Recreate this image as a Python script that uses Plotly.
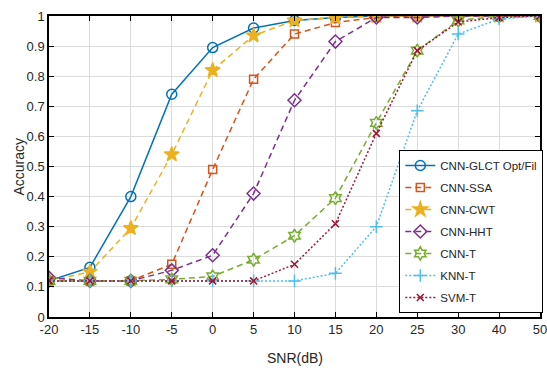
import plotly.graph_objects as go

snr_labels = ["-20", "-15", "-10", "-5", "0", "5", "10", "15", "20", "25", "30", "40", "50"]
cnn_glct = [0.12, 0.165, 0.40, 0.74, 0.895, 0.96, 0.985, 0.995, 1.0, 1.0, 1.0, 1.0, 1.0]
cnn_ssa = [0.12, 0.12, 0.12, 0.175, 0.49, 0.79, 0.94, 0.978, 0.995, 1.0, 1.0, 1.0, 1.0]
cnn_cwt = [0.12, 0.15, 0.295, 0.54, 0.82, 0.935, 0.985, 0.995, 1.0, 1.0, 1.0, 1.0, 1.0]
cnn_hht = [0.13, 0.12, 0.12, 0.155, 0.205, 0.41, 0.72, 0.915, 0.995, 0.995, 1.0, 1.0, 1.0]
cnn_t = [0.12, 0.12, 0.12, 0.125, 0.135, 0.19, 0.27, 0.395, 0.645, 0.885, 0.985, 1.0, 1.0]
knn_t = [0.12, 0.12, 0.12, 0.12, 0.12, 0.12, 0.12, 0.145, 0.30, 0.685, 0.94, 0.99, 1.0]
svm_t = [0.12, 0.12, 0.12, 0.12, 0.12, 0.12, 0.175, 0.31, 0.61, 0.885, 0.98, 0.995, 1.0]
y_ticks = [0, 0.1, 0.2, 0.3, 0.4, 0.5, 0.6, 0.7, 0.8, 0.9, 1]
y_tick_labels = ["0", "0.1", "0.2", "0.3", "0.4", "0.5", "0.6", "0.7", "0.8", "0.9", "1"]

x_idx = list(range(len(snr_labels)))

series = [
    ("CNN-GLCT Opt/Fil", cnn_glct, "#0072BD", "solid", "circle-open", 10),
    ("CNN-SSA", cnn_ssa, "#D95319", "6px,4px", "square-open", 8),
    ("CNN-CWT", cnn_cwt, "#EDB120", "6px,4px", "star", 11),
    ("CNN-HHT", cnn_hht, "#7E2F8E", "6px,4px", "diamond-open", 10),
    ("CNN-T", cnn_t, "#77AC30", "6px,4px", "hexagram-open", 10),
    ("KNN-T", knn_t, "#4DBEEE", "2px,2px", "cross-thin-open", 9),
    ("SVM-T", svm_t, "#A2142F", "2px,2px", "x-thin-open", 7),
]

FONT = "Liberation Sans, Arial, sans-serif"

fig = go.Figure()
for i, (name, vals, color, dash, sym, size) in enumerate(series):
    fig.add_trace(go.Scatter(
        x=x_idx, y=vals, name=name, mode="lines+markers",
        legendgroup="g%d" % i,
        line=dict(color=color, width=1.5, dash=dash),
        marker=dict(symbol=sym, size=size, color=color,
                    line=dict(color=color, width=1.5)),
    ))

fig.update_layout(
    width=547, height=374,
    margin=dict(l=49, r=7, t=16, b=57, autoexpand=False),
    paper_bgcolor="white", plot_bgcolor="white",
    font=dict(family=FONT, size=13, color="#262626"),
    showlegend=True,
    legend=dict(
        xref="container", yref="container",
        x=0.73, y=0.599, xanchor="left", yanchor="top",
        bgcolor="white", bordercolor="black", borderwidth=1,
        font=dict(family=FONT, size=11.5, color="#262626"),
        itemwidth=30, tracegroupgap=3,
    ),
    annotations=[
        dict(text="SNR(dB)", xref="paper", yref="paper", x=0.5, y=-0.135,
             xanchor="center", yanchor="middle", showarrow=False,
             font=dict(family=FONT, size=14, color="#262626")),
        dict(text="Accuracy", xref="paper", yref="paper", x=-0.063, y=0.5,
             xanchor="center", yanchor="middle", showarrow=False, textangle=-90,
             font=dict(family=FONT, size=14, color="#262626")),
    ],
)
fig.update_xaxes(
    range=[0, 12], tickvals=x_idx, ticktext=snr_labels,
    showgrid=True, gridcolor="#DCDCDC", gridwidth=1,
    showline=True, linecolor="black", linewidth=1.5, mirror="ticks",
    ticks="inside", ticklen=5, tickcolor="black", zeroline=False,
    automargin=False, ticklabeloverflow="allow",
    tickfont=dict(family=FONT, size=13),
)
fig.update_yaxes(
    range=[0, 1], tickvals=y_ticks, ticktext=y_tick_labels,
    showgrid=True, gridcolor="#DCDCDC", gridwidth=1,
    showline=True, linecolor="black", linewidth=1.5, mirror="ticks",
    ticks="inside", ticklen=5, tickcolor="black", zeroline=False,
    automargin=False, ticklabeloverflow="allow",
    tickfont=dict(family=FONT, size=13),
)

fig.write_html(
    "out.html",
    config={"displayModeBar": False},
    post_script=(
        "document.body.style.margin='0';"
        "document.body.style.overflow='hidden';"
        "document.documentElement.style.overflow='hidden';"
    ),
)
